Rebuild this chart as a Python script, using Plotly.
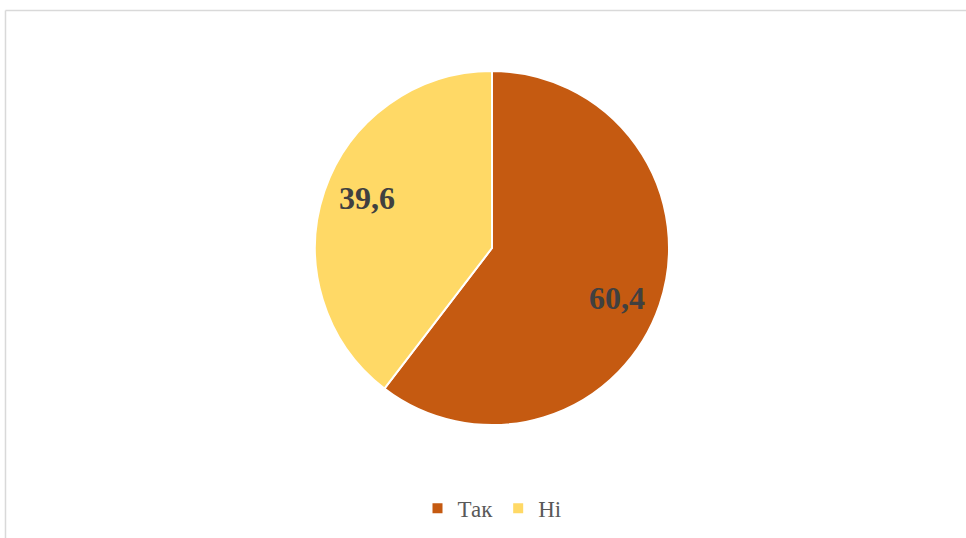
import math
import plotly.graph_objects as go

labels = ["Так", "Ні"]
values = [60.4, 39.6]
text_labels = ["60,4", "39,6"]
colors = ["#C55A11", "#FFD966"]

W, H = 966, 538
M = dict(l=18, r=0, t=71, b=113)
plot_w = W - M["l"] - M["r"]
plot_h = H - M["t"] - M["b"]
radius = min(plot_w, plot_h) / 2

fig = go.Figure(go.Pie(
    labels=labels,
    values=values,
    textinfo="none",
    sort=False,
    direction="clockwise",
    rotation=0,
    marker=dict(colors=colors, line=dict(color="white", width=2)),
    hoverinfo="label+value",
))

# data labels placed near the middle angle of each slice (Excel-like)
annotations = []
total = sum(values)
cum = 0
for v, t in zip(values, text_labels):
    mid = (cum + v / 2) / total * 2 * math.pi + math.radians(3)
    cum += v
    r = 0.76 * radius
    annotations.append(dict(
        x=0.5 + r * math.sin(mid) / plot_w,
        y=0.5 + r * math.cos(mid) / plot_h,
        xref="paper", yref="paper", text=t, showarrow=False,
        font=dict(family="Liberation Serif", size=32, color="#404040", weight="bold"),
    ))

fig.update_layout(
    width=W, height=H,
    margin=M,
    paper_bgcolor="white",
    font=dict(family="Liberation Serif", color="#595959", size=23),
    legend=dict(orientation="h", x=0.5, xanchor="center", y=-0.235, yanchor="middle",
                font=dict(size=23, color="#595959"), itemwidth=30),
    annotations=annotations,
    shapes=[
        dict(type="line", xref="paper", yref="paper", x0=-0.0132, x1=1.0, y0=1.171, y1=1.171,
             line=dict(color="#D9D9D9", width=1.5)),
        dict(type="line", xref="paper", yref="paper", x0=-0.0132, x1=-0.0132, y0=1.171, y1=-0.35,
             line=dict(color="#D9D9D9", width=1.5)),
    ],
)

fig.write_html("out.html", config={"displayModeBar": False},
               post_script="document.body.style.margin='0';")
